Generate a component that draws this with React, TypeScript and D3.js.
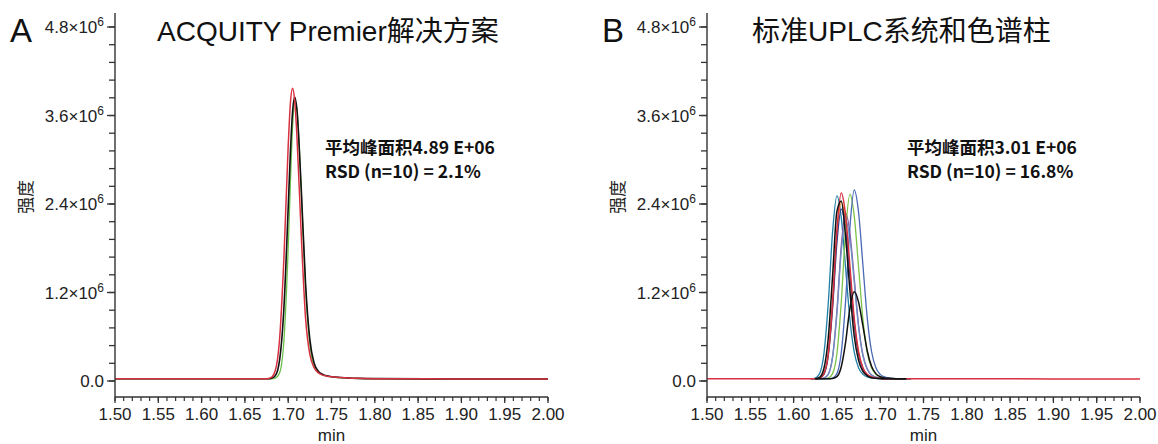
import React from 'react';
import * as d3 from 'd3';

const W = 1158;
const H = 444;

// axis ticks
const xTicks = [1.5, 1.55, 1.6, 1.65, 1.7, 1.75, 1.8, 1.85, 1.9, 1.95, 2.0];
const xTickLabels = ['1.50', '1.55', '1.60', '1.65', '1.70', '1.75', '1.80', '1.85', '1.90', '1.95', '2.00'];
const yTicks = [0, 1.2, 2.4, 3.6, 4.8];
const yTickLabels = ['0.0', '1.2', '2.4', '3.6', '4.8'];

// panel A: ACQUITY Premier (intensity in 1e6)
const timesA = [1.5, 1.6, 1.675, 1.68, 1.685, 1.69, 1.695, 1.7, 1.7025, 1.705, 1.7075, 1.71, 1.715, 1.72, 1.725, 1.73, 1.735, 1.74, 1.745, 1.75, 1.76, 1.77, 1.78, 1.8, 1.9, 2.0];
const greenA = [0.03, 0.03, 0.03, 0.03, 0.04, 0.11, 0.54, 1.8, 2.67, 3.43, 3.8, 3.69, 2.6, 1.26, 0.5, 0.19, 0.11, 0.08, 0.065, 0.056, 0.047, 0.04, 0.036, 0.032, 0.028, 0.027];
const blackA = [0.03, 0.03, 0.03, 0.034, 0.07, 0.28, 0.98, 2.35, 3.09, 3.64, 3.85, 3.69, 2.62, 1.33, 0.56, 0.24, 0.13, 0.09, 0.07, 0.058, 0.047, 0.04, 0.036, 0.032, 0.028, 0.027];
const redA = [0.03, 0.03, 0.03, 0.045, 0.14, 0.56, 1.65, 3.19, 3.76, 3.97, 3.8, 3.34, 2.0, 0.86, 0.36, 0.18, 0.11, 0.08, 0.065, 0.056, 0.047, 0.04, 0.036, 0.032, 0.028, 0.027];

// panel B: standard UPLC system
const timesB = [1.62, 1.625, 1.63, 1.635, 1.64, 1.645, 1.65, 1.655, 1.66, 1.665, 1.67, 1.675, 1.68, 1.685, 1.69, 1.695, 1.7, 1.705, 1.71, 1.715, 1.72, 1.725, 1.73, 1.735];
const tealB = [0.03, 0.04, 0.1, 0.37, 1.05, 2.02, 2.51, 2.22, 1.54, 0.84, 0.39, 0.18, 0.09, 0.055, 0.042, 0.035, 0.03, 0.03, 0.03, 0.03, 0.03, 0.03, 0.03, 0.03];
const orangeB = [0.03, 0.03, 0.04, 0.1, 0.35, 1.02, 1.95, 2.43, 2.15, 1.49, 0.81, 0.38, 0.17, 0.085, 0.054, 0.042, 0.035, 0.03, 0.03, 0.03, 0.03, 0.03, 0.03, 0.03];
const navyB = [0.03, 0.03, 0.04, 0.09, 0.34, 0.98, 1.87, 2.33, 2.06, 1.43, 0.78, 0.36, 0.17, 0.08, 0.053, 0.041, 0.035, 0.03, 0.03, 0.03, 0.03, 0.03, 0.03, 0.03];
const purpleB = [0.03, 0.03, 0.03, 0.04, 0.09, 0.33, 0.95, 1.83, 2.28, 2.01, 1.4, 0.76, 0.36, 0.165, 0.08, 0.053, 0.041, 0.035, 0.03, 0.03, 0.03, 0.03, 0.03, 0.03];
const greyBlueB = [0.03, 0.03, 0.03, 0.04, 0.09, 0.32, 0.91, 1.75, 2.18, 1.93, 1.34, 0.73, 0.34, 0.16, 0.08, 0.051, 0.04, 0.035, 0.03, 0.03, 0.03, 0.03, 0.03, 0.03];
const greenB = [0.03, 0.03, 0.03, 0.03, 0.04, 0.1, 0.37, 1.06, 2.03, 2.53, 2.24, 1.55, 0.84, 0.39, 0.18, 0.09, 0.055, 0.042, 0.035, 0.03, 0.03, 0.03, 0.03, 0.03];
const slateB = [0.03, 0.03, 0.03, 0.03, 0.03, 0.04, 0.1, 0.38, 1.08, 2.08, 2.59, 2.29, 1.58, 0.86, 0.4, 0.18, 0.09, 0.056, 0.043, 0.035, 0.03, 0.03, 0.03, 0.03];
const redBPeak = [0.03, 0.03, 0.04, 0.1, 0.37, 1.07, 2.05, 2.55, 2.25, 1.56, 0.85, 0.4, 0.18, 0.09, 0.055, 0.042, 0.035, 0.03, 0.03, 0.03, 0.03, 0.03, 0.03, 0.03];
const blackTallB = [null, 0.03, 0.05, 0.17, 0.58, 1.42, 2.3, 2.44, 1.96, 1.23, 0.61, 0.28, 0.13, 0.07, 0.045, 0.037, 0.033, 0.03, 0.03, 0.03, 0.03, 0.03, 0.03, null];
const blackSmallB = [null, 0.03, 0.03, 0.03, 0.03, 0.035, 0.06, 0.19, 0.52, 0.98, 1.21, 1.07, 0.75, 0.41, 0.2, 0.1, 0.057, 0.042, 0.036, 0.033, 0.03, 0.03, 0.03, null];
const timesBRed = [1.5, 1.6, ...timesB, 1.8, 1.9, 2.0];
const redB = [0.03, 0.03, ...redBPeak, 0.03, 0.028, 0.027];

type Trace = { t: number[]; v: (number | null)[]; color: string; w: number };

const panels = [
  {
    letter: 'A', x0: 115, x1: 548, title: 'ACQUITY Premier解决方案', titleX: 157,
    note1: '平均峰面积4.89 E+06', note2: 'RSD (n=10) = 2.1%', noteX: 325,
    traces: [
      { t: timesA, v: greenA, color: '#6cc04a', w: 1.3 },
      { t: timesA, v: blackA, color: '#111111', w: 1.6 },
      { t: timesA, v: redA, color: '#d93040', w: 1.5 },
    ] as Trace[],
  },
  {
    letter: 'B', x0: 707, x1: 1140, title: '标准UPLC系统和色谱柱', titleX: 752,
    note1: '平均峰面积3.01 E+06', note2: 'RSD (n=10) = 16.8%', noteX: 907,
    traces: [
      { t: timesB, v: tealB, color: '#1f7fa6', w: 1.3 },
      { t: timesB, v: orangeB, color: '#f0892c', w: 1.3 },
      { t: timesB, v: navyB, color: '#2d3f8e', w: 1.3 },
      { t: timesB, v: purpleB, color: '#8a5aa6', w: 1.3 },
      { t: timesB, v: greyBlueB, color: '#6f8fc2', w: 1.3 },
      { t: timesB, v: greenB, color: '#7cc24a', w: 1.3 },
      { t: timesB, v: slateB, color: '#4a68b6', w: 1.3 },
      { t: timesBRed, v: redB, color: '#d93040', w: 1.5 },
      { t: timesB, v: blackTallB, color: '#111111', w: 1.5 },
      { t: timesB, v: blackSmallB, color: '#111111', w: 1.5 },
    ] as Trace[],
  },
];

const yScale = d3.scaleLinear().domain([-0.217, 4.99]).range([397, 13]);
const xMinor = d3.range(150, 201).map(v => v / 100);
const yMinor = d3.range(0, 21).map(i => i * 0.24);

const latin = 'Liberation Sans, Arial, Noto Sans CJK SC, sans-serif';
const cjk = 'Noto Sans CJK SC, sans-serif';

function Panel({ p }: { p: typeof panels[number] }) {
  const xs = d3.scaleLinear().domain([1.5, 2.0]).range([p.x0, p.x1]);
  const line = d3.line<[number, number | null]>()
    .defined(d => d[1] != null)
    .x(d => xs(d[0]))
    .y(d => yScale(d[1] as number))
    .curve(d3.curveMonotoneX);
  const axisY = yScale(-0.217);
  return (
    <g>
      <text x={p.x0 - 105} y={42} fontSize={33} fontFamily={latin} fill="#111">{p.letter}</text>
      <text x={p.titleX} y={41} fontSize={28} fontFamily={latin} fill="#111">{p.title}</text>
      <text transform={`translate(${p.x0 - 83},197) rotate(-90)`} textAnchor="middle" fontSize={17} fontFamily={cjk} fill="#222">强度</text>

      {p.traces.map((tr, i) => (
        <path key={i} d={line(tr.t.map((t, j) => [t, tr.v[j]]) as [number, number | null][]) || ''}
          fill="none" stroke={tr.color} strokeWidth={tr.w} strokeLinejoin="round" />
      ))}

      {/* y axis */}
      <line x1={p.x0} x2={p.x0} y1={13} y2={axisY} stroke="#333" strokeWidth={1.4} />
      {yMinor.map((v, i) => (
        <line key={i} x1={p.x0 - 6} x2={p.x0} y1={yScale(v)} y2={yScale(v)} stroke="#333" strokeWidth={1.3} />
      ))}
      {yTicks.map((v, i) => (
        <g key={i}>
          <line x1={p.x0 - 8} x2={p.x0} y1={yScale(v)} y2={yScale(v)} stroke="#333" strokeWidth={1.3} />
          <text x={p.x0 - 11} y={yScale(v) + 6} textAnchor="end" fontSize={17} fontFamily={latin} fill="#222">
            {v === 0 ? yTickLabels[i] : (
              <>{yTickLabels[i]}×10<tspan fontSize={12} dy={-7}>6</tspan></>
            )}
          </text>
        </g>
      ))}

      {/* x axis */}
      <line x1={p.x0} x2={p.x1} y1={axisY} y2={axisY} stroke="#333" strokeWidth={1.4} />
      {xMinor.map((v, i) => (
        <line key={i} x1={xs(v)} x2={xs(v)} y1={axisY} y2={axisY + 4} stroke="#333" strokeWidth={1.2} />
      ))}
      {xTicks.map((v, i) => (
        <g key={i}>
          <line x1={xs(v)} x2={xs(v)} y1={axisY} y2={axisY + 6} stroke="#333" strokeWidth={1.3} />
          <text x={xs(v)} y={420} textAnchor="middle" fontSize={17} fontFamily={latin} fill="#222">{xTickLabels[i]}</text>
        </g>
      ))}
      <text x={(p.x0 + p.x1) / 2} y={441} textAnchor="middle" fontSize={17} fontFamily={latin} fill="#222">min</text>

      <text x={p.noteX} y={154} fontSize={17.5} fontWeight="bold" fontFamily={cjk} fill="#111">{p.note1}</text>
      <text x={p.noteX} y={178} fontSize={17.5} fontWeight="bold" fontFamily={cjk} fill="#111">{p.note2}</text>
    </g>
  );
}

export default function App() {
  return (
    <svg width={W} height={H} style={{ position: 'absolute', left: 0, top: 0, background: '#fff' }}>
      <rect width={W} height={H} fill="#fff" />
      {panels.map(p => <Panel key={p.letter} p={p} />)}
    </svg>
  );
}
